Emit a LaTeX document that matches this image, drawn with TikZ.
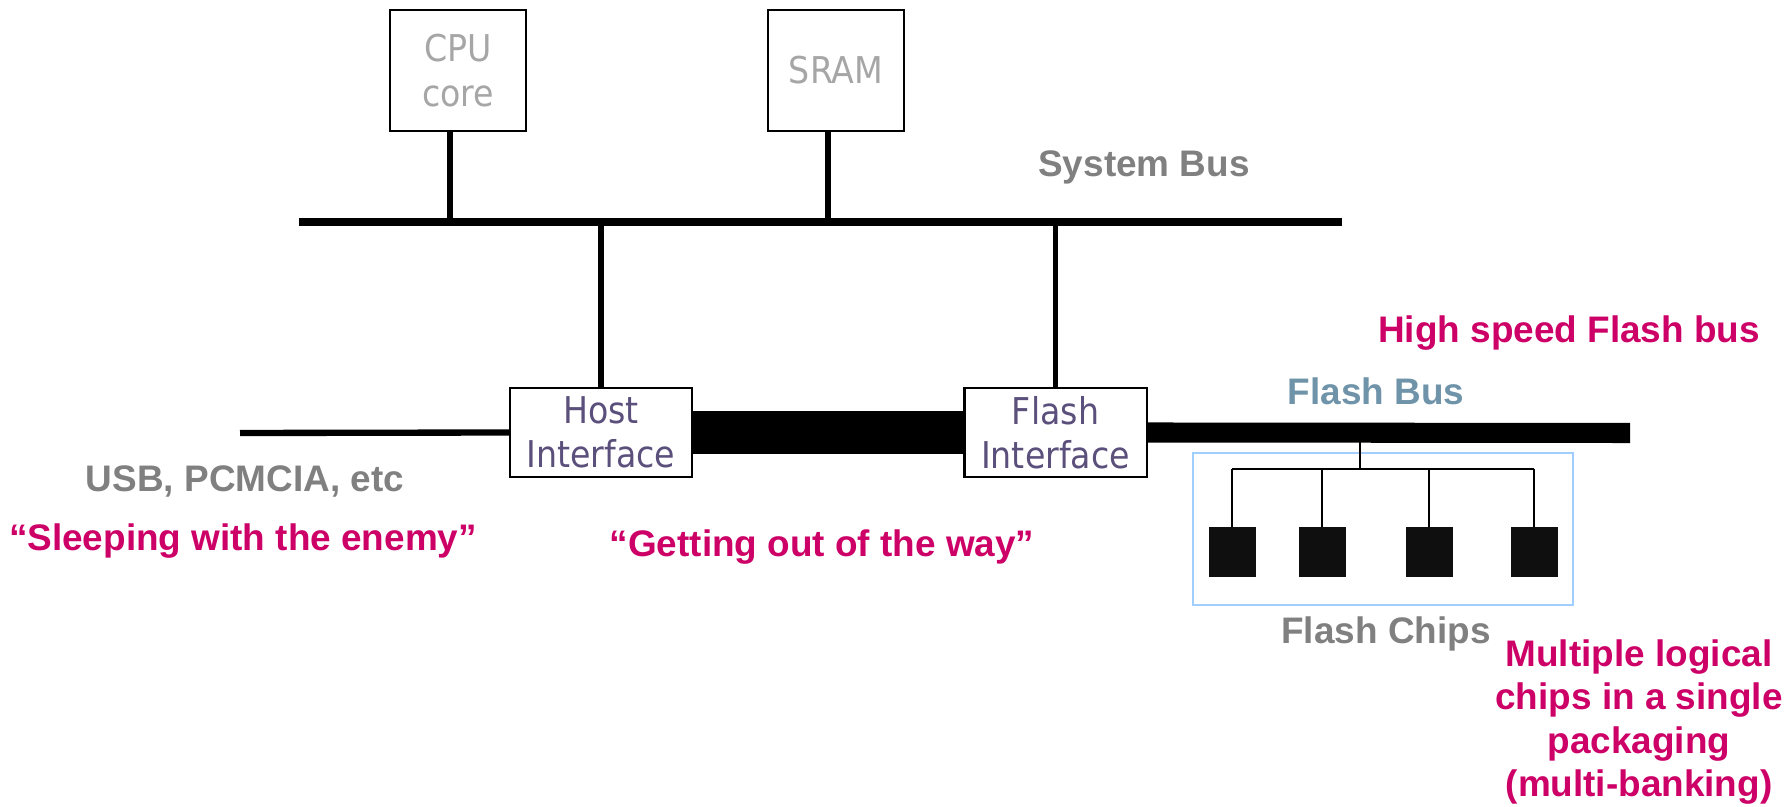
\documentclass[tikz,border=0pt]{standalone}
\usepackage{fontspec}
\setmainfont{Liberation Sans}
\newfontfamily\boxfont{DejaVu Sans Condensed}
\usetikzlibrary{positioning,calc}
\definecolor{rosa}{HTML}{CC0066}
\definecolor{grau}{HTML}{808080}
\definecolor{hgrau}{HTML}{A6A6A6}
\definecolor{lila}{HTML}{5B4F7B}
\definecolor{blaugrau}{HTML}{6F93A8}
\definecolor{hblau}{HTML}{A0CFFF}
\tikzset{
  block/.style={draw=black,line width=0.6pt,fill=white,inner sep=0pt,align=center,
    font=\boxfont\fontsize{10.5}{12.6}\selectfont},
  sbus/.style={black,line width=2.3pt},
  stem/.style={black,line width=1.6pt},
  usbline/.style={black,line width=1.8pt},
  fatbus/.style={black,line width=12.5pt},
  fbus/.style={black,line width=5.7pt},
  tree/.style={black,line width=0.65pt},
  chip/.style={fill=black!94,inner sep=0pt,minimum width=0.47cm,minimum height=0.49cm},
  lbl/.style={inner sep=0pt,font=\bfseries\fontsize{10.5}{12.4}\selectfont},
}
\begin{document}
\begin{tikzpicture}[x=0.01cm,y=-0.01cm]
  \useasboundingbox (0,0) rectangle (1791,807);
  % system bus with cpu and sram
  \coordinate (sbL) at (299,222);
  \coordinate (sbR) at (1342,222);
  \draw[sbus] (sbL) -- (sbR);
  \node[block,text=hgrau,minimum width=1.36cm,minimum height=1.21cm] (cpu) at (458,70.5) {CPU\\core};
  \node[block,text=hgrau,minimum width=1.36cm,minimum height=1.21cm] (sram) at (836,70.5) {SRAM};
  \draw[stem] ([xshift=-0.08cm]cpu.south) -- ([xshift=-0.08cm]cpu.south |- sbL);
  \draw[stem] ([xshift=-0.08cm]sram.south) -- ([xshift=-0.08cm]sram.south |- sbL);
  \node[lbl,text=grau,anchor=base] (sbtxt) at (1144,177) {System Bus};
  % interfaces
  \node[block,text=lila,minimum width=1.82cm,minimum height=0.89cm] (host) at (601,432.5) {Host\\Interface};
  \node[block,text=lila,minimum width=1.82cm,minimum height=0.89cm] (flash) at (1055.5,432.5) {Flash\\Interface};
  \draw[stem] (host.north) -- (host.north |- sbL);
  \draw[stem] (flash.north) -- (flash.north |- sbL);
  \coordinate (usb) at (240,433);
  \draw[usbline] (usb) -- (host.west);
  \draw[fatbus] (host.east) -- (flash.west);
  % flash chips
  \node[draw=hblau,line width=0.6pt,inner sep=0pt,minimum width=3.8cm,minimum height=1.52cm] (bank) at (1383,529) {};
  \foreach \x [count=\i] in {1232,1322,1429,1534}
    \node[chip] (c\i) at (\x,552) {};
  \coordinate (tap) at (1360,433);
  \coordinate (split) at (1360,469);
  \draw[tree] (tap) -- (split);
  \draw[tree] (c1.north |- split) -- (c4.north |- split);
  \foreach \i in {1,...,4}
    \draw[tree] (c\i.north) -- (c\i.north |- split);
  \coordinate (fbE) at (1630,433);
  \draw[fbus] (flash.east) -- (fbE);
  % labels
  \node[lbl,text=blaugrau,anchor=base] (fbtxt) at (1376,405) {Flash Bus};
  \node[lbl,text=rosa,anchor=base] (hstxt) at (1569,343) {High speed Flash bus};
  \node[lbl,text=grau,anchor=base] (usbtxt) at (245,492) {USB, PCMCIA, etc};
  \node[lbl,text=rosa,anchor=base] (sleep) at (243,551) {“Sleeping with the enemy”};
  \node[lbl,text=rosa,anchor=base] (getout) at (822,557) {“Getting out of the way”};
  \node[lbl,text=grau,anchor=base] (chiptxt) at (1386,643) {Flash Chips};
  \node[lbl,text=rosa,align=center] (multi) at (1639,722) {Multiple logical\\chips in a single\\packaging\\(multi-banking)};
\end{tikzpicture}
\end{document}
